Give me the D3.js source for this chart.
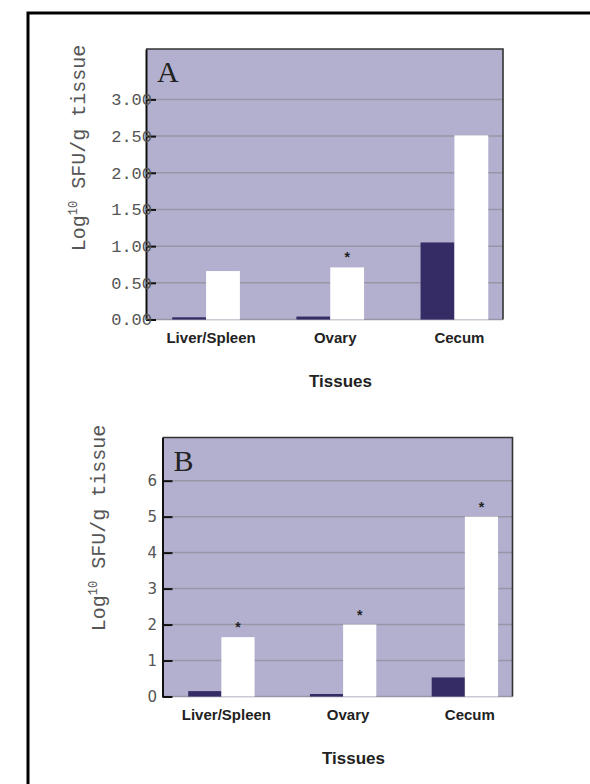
<!DOCTYPE html>
<html>
<head>
<meta charset="utf-8">
<script src="https://cdn.jsdelivr.net/npm/d3@7"></script>
<style>
  body { margin: 0; background: #fff; }
  svg { display: block; }
  .tick-a text { font-family: "Liberation Mono", monospace; font-size: 17px; fill: #555; }
  .tick-b text { font-family: "DejaVu Sans", sans-serif; font-size: 15px; fill: #555; }
  .y-label { font-family: "Liberation Mono", monospace; font-size: 20px; fill: #555; }
  .cat-label { font-family: "Liberation Sans", Arial, sans-serif; font-weight: bold; font-size: 15px; fill: #222; }
  .x-title { font-family: "Liberation Sans", Arial, sans-serif; font-weight: bold; font-size: 17px; fill: #222; }
  .panel-letter { font-family: "Liberation Serif", serif; font-size: 30px; fill: #222; }
  .star { font-family: "Liberation Sans", Arial, sans-serif; font-weight: bold; font-size: 14px; fill: #222; }
</style>
</head>
<body>
<svg id="chart" width="590" height="784"></svg>
<script>
const tissues = ["Liver/Spleen", "Ovary", "Cecum"];

// panel A
const panelADark = [0.03, 0.04, 1.05];
const panelAWhite = [0.66, 0.71, 2.51];
const panelAStars = [false, true, false];
const panelATicks = [0, 0.5, 1, 1.5, 2, 2.5, 3];

// panel B
const panelBDark = [0.15, 0.07, 0.53];
const panelBWhite = [1.65, 2.0, 5.0];
const panelBStars = [true, true, true];
const panelBTicks = [0, 1, 2, 3, 4, 5, 6];

const colors = { bg: "#b2b0ce", dark: "#352c66", white: "#ffffff", grid: "#9896a6" };

class BarPanel {
  constructor(svg, config) {
    this.svg = svg;
    this.config = config;
    this.g = svg.append("g");
  }

  scales() {
    const c = this.config;
    this.x0 = d3.scaleBand()
      .domain(tissues)
      .range([c.left, c.right])
      .paddingInner(0.455)
      .paddingOuter(0.165)
      .align(0.64);
    this.x1 = d3.scaleBand().domain([0, 1]).range([0, this.x0.bandwidth()]);
    this.y = d3.scaleLinear().domain([0, c.yMax]).range([c.bottom, c.top]);
  }

  drawFrame() {
    const c = this.config;
    this.g.append("rect")
      .attr("x", c.left).attr("y", c.top)
      .attr("width", c.right - c.left).attr("height", c.bottom - c.top)
      .attr("fill", colors.bg);

    this.g.selectAll(".grid")
      .data(c.ticks)
      .enter()
      .append("line")
      .attr("class", "grid")
      .attr("x1", c.left).attr("x2", c.right)
      .attr("y1", (d) => this.y(d)).attr("y2", (d) => this.y(d))
      .style("stroke", colors.grid)
      .style("stroke-width", 1.5);

    // top + right border
    this.g.append("path")
      .attr("d", `M${c.left},${c.top} H${c.right} V${c.bottom}`)
      .attr("fill", "none")
      .style("stroke", "#333")
      .style("stroke-width", 1.6);
  }

  drawBars() {
    const c = this.config;
    const rows = tissues.map((t, i) => ({
      tissue: t,
      values: [c.dark[i], c.white[i]],
      star: c.stars[i],
    }));

    const groups = this.g.selectAll(".group")
      .data(rows)
      .enter()
      .append("g")
      .attr("class", "group")
      .attr("transform", (d) => `translate(${this.x0(d.tissue)},0)`);

    groups.selectAll("rect")
      .data((d) => d.values)
      .enter()
      .append("rect")
      .attr("x", (d, i) => this.x1(i))
      .attr("width", this.x1.bandwidth())
      .attr("y", (d) => this.y(d))
      .attr("height", (d) => this.y(0) - this.y(d))
      .attr("fill", (d, i) => (i === 0 ? colors.dark : colors.white));

    groups.filter((d) => d.star)
      .append("text")
      .attr("class", "star")
      .attr("x", this.x1(1) + this.x1.bandwidth() / 2)
      .attr("y", (d) => this.y(d.values[1]) - 5)
      .attr("text-anchor", "middle")
      .text("*");
  }

  drawAxis() {
    const c = this.config;
    const axis = d3.axisLeft(this.y)
      .tickValues(c.ticks)
      .tickSizeInner(-10)
      .tickSizeOuter(0)
      .tickPadding(c.tickPad)
      .tickFormat(c.format);

    const ax = this.g.append("g")
      .attr("class", c.tickClass)
      .attr("transform", `translate(${c.left},0)`)
      .call(axis);
    ax.select(".domain").style("stroke", "#111").style("stroke-width", 2);
    ax.selectAll(".tick line").style("stroke", "#111").style("stroke-width", 2);
    ax.selectAll(".tick text").attr("font-family", null).attr("font-size", null);
    ax.attr("font-family", null).attr("font-size", null);
  }

  drawLabels() {
    const c = this.config;
    this.g.selectAll(".cat-label")
      .data(tissues)
      .enter()
      .append("text")
      .attr("class", "cat-label")
      .attr("x", (d) => this.x0(d) + this.x0.bandwidth() / 2 + 5)
      .attr("y", c.bottom + 23)
      .attr("text-anchor", "middle")
      .text((d) => d);

    this.g.append("text")
      .attr("class", "x-title")
      .attr("x", (c.left + c.right) / 2 + 16)
      .attr("y", c.bottom + 67)
      .attr("text-anchor", "middle")
      .text("Tissues");

    this.g.append("text")
      .attr("class", "panel-letter")
      .attr("x", c.left + 11)
      .attr("y", c.top + 33)
      .text(c.letter);

    const yl = this.g.append("text")
      .attr("class", "y-label")
      .attr("text-anchor", "middle")
      .attr("transform", `translate(${c.labelX},${c.labelY}) rotate(-90)`);
    yl.append("tspan").text("Log");
    yl.append("tspan").attr("dy", -8).style("font-size", "12px").text("10");
    yl.append("tspan").attr("dy", 8).text(" SFU/g tissue");
  }

  render() {
    this.scales();
    this.drawFrame();
    this.drawBars();
    this.drawAxis();
    this.drawLabels();
  }
}

const svg = d3.select("#chart");

svg.append("rect")
  .attr("x", 28).attr("y", 13)
  .attr("width", 700).attr("height", 900)
  .attr("fill", "none")
  .style("stroke", "#000")
  .style("stroke-width", 3);

new BarPanel(svg, {
  letter: "A",
  left: 146, right: 503, top: 49, bottom: 319.5,
  yMax: 3.687,
  dark: panelADark, white: panelAWhite, stars: panelAStars,
  ticks: panelATicks,
  format: d3.format(".2f"),
  tickPad: -6,
  tickClass: "tick-a",
  labelX: 85, labelY: 148,
}).render();

new BarPanel(svg, {
  letter: "B",
  left: 162.5, right: 512.5, top: 437.5, bottom: 696.5,
  yMax: 7.2,
  dark: panelBDark, white: panelBWhite, stars: panelBStars,
  ticks: panelBTicks,
  format: d3.format("d"),
  tickPad: 5.5,
  tickClass: "tick-b",
  labelX: 105, labelY: 528,
}).render();
</script>
</body>
</html>
